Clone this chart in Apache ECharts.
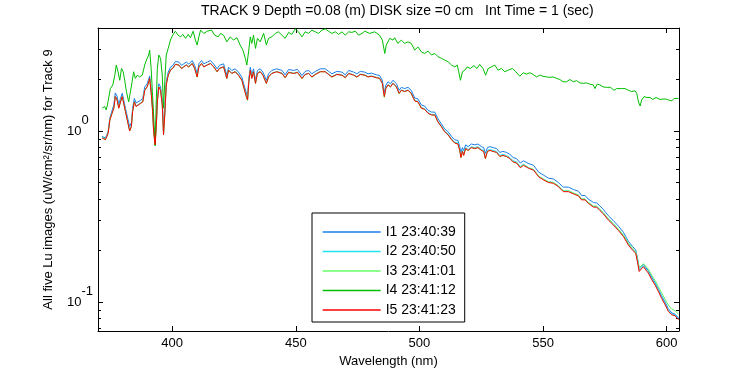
<!DOCTYPE html>
<html>
<head>
<meta charset="utf-8">
<script src="https://cdn.jsdelivr.net/npm/echarts@6/dist/echarts.min.js"></script>
<style>
  html, body { margin: 0; padding: 0; background: #fff; }
  #chart { width: 750px; height: 375px; }
</style>
</head>
<body>
<div id="chart"></div>
<script>
// wavelengths (nm) shared by I1, I2, I3 and I5
const wavelength = [
  371.7,373.0,374.1,374.8,375.7,376.4,377.0,377.7,378.4,379.1,
  379.8,380.4,381.1,382.0,382.8,383.5,384.0,384.7,385.4,386.2,
  387.2,388.1,388.9,389.9,390.5,390.9,391.6,392.1,392.5,393.1,
  393.6,394.0,394.6,395.3,396.0,396.5,397.0,397.6,398.4,399.3,
  400.2,401.3,402.7,403.8,404.7,405.7,406.7,408.1,409.1,410.1,
  410.8,411.9,412.8,414.2,415.5,416.8,418.2,419.1,420.8,422.1,
  422.8,424.1,425.5,426.8,428.2,429.1,430.0,430.5,431.0,431.6,
  432.2,432.9,433.7,434.5,435.6,436.7,438.1,439.0,440.3,442.3,
  444.4,445.7,447.1,449.1,450.7,452.5,453.8,455.2,456.5,457.9,
  459.9,461.9,463.3,464.6,466.6,468.7,470.0,471.4,473.4,474.7,
  476.1,477.9,479.2,480.6,482.6,483.9,485.0,485.8,486.4,487.3,
  488.3,489.3,490.7,491.8,492.7,494.0,495.4,496.7,498.1,499.4,
  500.8,502.1,503.5,504.9,506.2,507.5,508.9,510.2,511.6,513.0,
  514.3,515.6,516.3,516.8,517.4,517.9,518.7,519.7,521.0,522.4,
  523.7,525.1,526.0,526.7,527.5,528.5,529.8,531.2,532.5,533.8,
  535.2,536.6,537.9,539.3,540.8,542.1,544.2,546.2,548.2,550.0,
  552.2,554.2,556.2,558.2,560.3,562.3,564.3,565.6,567.0,568.3,
  570.4,571.7,573.0,574.4,576.4,578.4,580.5,582.5,584.5,586.1,
  587.5,588.3,588.9,589.7,590.6,591.6,592.6,594.0,595.3,596.7,
  598.0,599.4,600.7,602.1,603.4,604.8
];

const i1 = [
  0.93,0.91,0.99,1.19,1.32,1.42,1.67,1.60,1.43,1.55,
  1.66,1.52,1.36,1.19,1.06,1.12,1.36,1.55,1.46,1.49,
  1.51,1.55,1.81,1.89,1.85,2.10,1.70,1.38,1.07,0.89,
  1.16,1.56,1.89,1.81,1.50,1.04,1.32,1.94,2.21,2.36,
  2.41,2.55,2.53,2.42,2.47,2.53,2.46,2.58,2.42,2.16,
  2.47,2.58,2.47,2.53,2.58,2.46,2.31,2.42,2.47,2.12,
  2.36,2.26,2.31,2.21,2.06,1.85,1.67,1.60,2.02,2.36,
  2.12,2.31,1.98,2.26,2.31,2.21,1.98,2.16,2.26,2.31,
  2.26,2.13,2.29,2.26,2.29,2.11,2.23,2.26,2.16,2.23,
  2.31,2.31,2.23,2.16,2.23,2.21,2.13,2.26,2.21,2.16,
  2.23,2.21,2.16,2.18,2.13,2.11,1.98,1.67,1.85,1.94,
  1.89,1.98,1.89,1.73,1.80,1.77,1.80,1.73,1.56,1.54,
  1.42,1.40,1.32,1.29,1.29,1.18,1.10,1.03,0.99,0.93,
  0.89,0.88,0.81,0.75,0.80,0.77,0.83,0.81,0.84,0.83,
  0.84,0.81,0.80,0.74,0.80,0.81,0.80,0.79,0.75,0.76,
  0.75,0.73,0.70,0.69,0.65,0.67,0.645,0.63,0.575,0.555,
  0.53,0.525,0.50,0.47,0.47,0.455,0.445,0.42,0.42,0.40,
  0.382,0.38,0.365,0.348,0.32,0.30,0.278,0.256,0.227,0.212,
  0.202,0.178,0.158,0.162,0.166,0.159,0.153,0.140,0.130,0.119,
  0.109,0.100,0.0915,0.0865,0.085,0.081
];

const i2 = [
  0.92,0.90,0.98,1.17,1.28,1.37,1.60,1.53,1.37,1.49,
  1.60,1.46,1.31,1.14,1.01,1.07,1.31,1.49,1.40,1.43,
  1.46,1.49,1.74,1.82,1.78,2.04,1.63,1.31,1.00,0.84,
  1.09,1.49,1.82,1.74,1.43,0.96,1.25,1.87,2.13,2.28,
  2.33,2.46,2.44,2.33,2.38,2.44,2.38,2.49,2.33,2.08,
  2.38,2.49,2.38,2.44,2.49,2.38,2.23,2.33,2.38,2.04,
  2.28,2.18,2.23,2.13,1.99,1.78,1.60,1.53,1.95,2.28,
  2.04,2.23,1.91,2.18,2.23,2.13,1.91,2.08,2.18,2.23,
  2.18,2.06,2.21,2.18,2.21,2.04,2.15,2.18,2.08,2.15,
  2.23,2.23,2.15,2.08,2.15,2.13,2.06,2.18,2.13,2.08,
  2.15,2.13,2.08,2.10,2.06,2.04,1.91,1.60,1.78,1.87,
  1.82,1.91,1.82,1.67,1.74,1.71,1.74,1.67,1.51,1.49,
  1.37,1.35,1.28,1.25,1.25,1.14,1.07,1.00,0.96,0.90,
  0.86,0.85,0.78,0.71,0.77,0.73,0.80,0.78,0.81,0.80,
  0.81,0.78,0.77,0.70,0.77,0.78,0.77,0.76,0.72,0.73,
  0.72,0.70,0.67,0.66,0.62,0.64,0.61,0.595,0.545,0.525,
  0.505,0.50,0.478,0.447,0.447,0.433,0.422,0.40,0.40,0.382,
  0.363,0.363,0.347,0.332,0.306,0.287,0.265,0.245,0.219,0.204,
  0.195,0.171,0.153,0.158,0.163,0.156,0.150,0.137,0.128,0.117,
  0.107,0.0975,0.0892,0.0853,0.0842,0.0797
];

const i3 = [
  0.91,0.89,0.97,1.16,1.27,1.36,1.59,1.52,1.36,1.48,
  1.59,1.45,1.30,1.13,1.00,1.06,1.30,1.48,1.39,1.42,
  1.45,1.48,1.73,1.81,1.77,2.03,1.62,1.30,0.99,0.82,
  1.08,1.48,1.81,1.73,1.42,0.95,1.24,1.86,2.12,2.27,
  2.32,2.45,2.43,2.32,2.37,2.43,2.37,2.48,2.32,2.06,
  2.37,2.48,2.37,2.43,2.48,2.37,2.21,2.32,2.37,2.02,
  2.27,2.17,2.22,2.12,1.98,1.76,1.58,1.51,1.94,2.27,
  2.03,2.22,1.89,2.17,2.22,2.12,1.89,2.07,2.17,2.22,
  2.17,2.04,2.20,2.17,2.20,2.02,2.14,2.17,2.06,2.14,
  2.22,2.22,2.14,2.06,2.14,2.12,2.04,2.17,2.12,2.06,
  2.14,2.12,2.07,2.09,2.05,2.03,1.89,1.57,1.77,1.86,
  1.81,1.90,1.81,1.65,1.73,1.70,1.73,1.65,1.50,1.48,
  1.36,1.34,1.27,1.24,1.24,1.13,1.06,0.99,0.95,0.89,
  0.85,0.84,0.77,0.70,0.76,0.72,0.79,0.77,0.80,0.79,
  0.80,0.77,0.76,0.69,0.76,0.77,0.76,0.75,0.71,0.72,
  0.71,0.69,0.66,0.65,0.615,0.635,0.61,0.595,0.545,0.525,
  0.505,0.50,0.478,0.447,0.447,0.434,0.423,0.40,0.40,0.383,
  0.364,0.364,0.348,0.333,0.307,0.288,0.267,0.247,0.221,0.207,
  0.198,0.175,0.158,0.163,0.168,0.162,0.156,0.143,0.134,0.123,
  0.113,0.104,0.096,0.091,0.089,0.085
];

const i5 = [
  0.91,0.89,0.97,1.16,1.27,1.36,1.59,1.52,1.36,1.48,
  1.59,1.45,1.30,1.13,1.00,1.06,1.30,1.48,1.39,1.42,
  1.45,1.48,1.73,1.81,1.77,2.03,1.62,1.30,0.99,0.83,
  1.08,1.48,1.81,1.73,1.42,0.95,1.24,1.86,2.12,2.27,
  2.32,2.45,2.43,2.32,2.37,2.43,2.37,2.48,2.32,2.07,
  2.37,2.48,2.37,2.43,2.48,2.37,2.22,2.32,2.37,2.03,
  2.27,2.17,2.22,2.12,1.98,1.77,1.59,1.52,1.94,2.27,
  2.03,2.22,1.90,2.17,2.22,2.12,1.90,2.07,2.17,2.22,
  2.17,2.05,2.20,2.17,2.20,2.03,2.14,2.17,2.07,2.14,
  2.22,2.22,2.14,2.07,2.14,2.12,2.05,2.17,2.12,2.07,
  2.14,2.12,2.07,2.09,2.05,2.03,1.90,1.59,1.77,1.86,
  1.81,1.90,1.81,1.66,1.73,1.70,1.73,1.66,1.50,1.48,
  1.36,1.34,1.27,1.24,1.24,1.13,1.06,0.99,0.95,0.89,
  0.85,0.84,0.77,0.70,0.76,0.72,0.79,0.77,0.80,0.79,
  0.80,0.77,0.76,0.69,0.76,0.77,0.76,0.75,0.71,0.72,
  0.71,0.69,0.66,0.65,0.61,0.63,0.605,0.59,0.54,0.52,
  0.50,0.495,0.473,0.442,0.442,0.429,0.418,0.396,0.396,0.378,
  0.359,0.359,0.343,0.328,0.302,0.283,0.262,0.242,0.216,0.202,
  0.193,0.169,0.151,0.156,0.161,0.154,0.148,0.135,0.126,0.115,
  0.105,0.0964,0.0881,0.0843,0.0832,0.0788
];

// I4 was sampled on its own wavelengths
const wavelengthI4 = [
  371.7,372.7,373.3,373.8,374.6,375.0,376.0,376.8,377.4,378.1,
  378.8,379.5,380.2,380.8,381.5,382.4,383.2,383.8,384.4,385.1,
  385.9,386.8,387.9,388.9,389.6,390.5,390.9,391.5,392.0,392.5,
  393.1,393.6,394.0,394.6,395.3,396.0,396.5,397.0,397.6,398.4,
  399.3,400.2,401.3,402.4,403.4,404.3,405.4,406.5,407.4,408.5,
  409.4,410.1,410.8,411.5,412.8,414.2,415.9,417.2,418.6,419.6,
  420.8,422.1,423.5,424.8,426.2,427.5,428.6,429.6,430.2,430.9,
  431.6,432.2,432.9,433.7,434.5,435.6,437.0,438.1,439.0,440.3,
  441.7,443.0,444.4,445.7,447.1,448.4,449.8,451.1,452.5,453.8,
  455.2,456.5,457.9,459.2,460.6,461.9,463.3,464.6,466.0,467.3,
  468.7,470.0,471.4,472.7,474.1,475.4,476.8,477.9,479.9,481.9,
  483.9,485.0,486.0,486.6,488.0,489.3,490.0,491.3,492.0,492.7,
  494.0,495.4,496.7,498.1,499.4,500.8,502.1,503.5,504.9,506.2,
  507.5,508.9,510.2,511.6,513.0,514.3,515.3,515.9,516.6,517.4,
  518.4,519.3,520.6,522.0,523.3,524.4,525.7,526.8,527.8,529.1,
  530.5,531.8,533.2,534.5,535.9,537.7,539.0,540.6,542.0,543.3,
  544.7,546.0,547.4,548.7,550.0,551.4,552.8,554.1,555.5,556.8,
  558.1,559.5,560.9,562.2,563.6,564.9,566.3,567.6,568.9,570.3,
  571.0,571.9,573.0,574.3,575.7,577.3,578.7,579.8,581.8,583.2,
  584.5,585.9,587.2,587.9,588.6,589.3,589.9,590.9,592.0,593.3,
  594.4,595.7,597.3,599.4,600.7,602.1,603.0,604.8
];

const i4 = [
  1.36,1.39,1.33,1.42,1.43,1.77,1.86,2.12,2.43,2.22,
  1.98,2.32,2.22,1.98,1.70,1.48,1.52,1.94,2.22,2.03,
  2.12,2.07,2.12,2.43,2.60,2.78,2.97,2.32,1.70,1.24,
  0.82,1.55,2.32,2.78,2.66,2.12,1.36,1.94,2.78,3.04,
  3.40,3.63,3.83,3.63,3.55,3.67,3.48,3.67,3.51,3.83,
  3.40,3.18,3.55,3.89,3.72,3.83,3.89,3.63,3.55,3.72,
  3.63,3.32,3.55,3.40,3.51,3.18,2.97,2.66,2.43,2.90,
  3.55,3.25,3.63,3.04,3.48,3.32,3.72,3.18,3.48,3.55,
  3.72,3.80,3.63,3.48,3.77,3.67,3.95,3.80,3.55,3.80,
  3.72,3.89,3.80,3.72,3.89,3.95,3.83,3.72,3.80,3.67,
  3.80,3.63,3.80,3.77,3.83,3.63,3.72,3.83,3.72,3.80,
  3.63,3.40,2.84,3.18,3.48,3.40,3.51,3.25,3.18,3.40,
  3.25,3.32,3.25,2.97,3.10,2.90,2.84,2.93,2.78,2.84,
  2.72,2.66,2.60,2.54,2.43,2.37,2.43,2.22,1.98,2.22,
  2.27,2.37,2.32,2.41,2.32,2.45,2.32,2.12,2.32,2.37,
  2.43,2.27,2.32,2.22,2.27,2.32,2.22,2.09,2.19,2.15,
  2.19,2.14,2.07,2.12,2.09,2.07,2.06,2.07,2.03,2.00,
  1.94,1.94,2.00,1.94,1.97,1.91,1.90,1.91,1.88,1.86,
  1.77,1.88,1.86,1.81,1.80,1.80,1.73,1.77,1.77,1.77,
  1.73,1.70,1.72,1.66,1.48,1.40,1.52,1.59,1.57,1.57,
  1.53,1.57,1.53,1.54,1.52,1.50,1.55,1.55
];

const seriesNames = ['I1 23:40:39', 'I2 23:40:50', 'I3 23:41:01', 'I4 23:41:12', 'I5 23:41:23'];
const seriesColors = ['#1a7ee8', '#20e4f0', '#66ff66', '#00bf00', '#ff0000'];

const FONT = 'Liberation Sans, Arial, sans-serif';

function pairs(xs, ys) {
  return xs.map((x, i) => [x, ys[i]]);
}

const chart = echarts.init(document.getElementById('chart'));

const blackLine = { lineStyle: { color: '#000', width: 1 } };

function lineSeries(idx, xs, ys) {
  return {
    name: seriesNames[idx],
    type: 'line',
    data: pairs(xs, ys),
    symbol: 'none',
    showSymbol: false,
    lineStyle: { width: 1, color: seriesColors[idx] },
    itemStyle: { color: seriesColors[idx] },
    emphasis: { disabled: true },
    animation: false
  };
}

chart.setOption({
  animation: false,
  backgroundColor: '#fff',
  title: {
    text: 'TRACK 9 Depth =0.08 (m) DISK size =0 cm   Int Time = 1 (sec)',
    left: 201,
    top: 4,
    padding: 0,
    textStyle: { fontFamily: FONT, fontSize: 14, fontWeight: 'normal', color: '#000' }
  },
  grid: { left: 98, top: 28, width: 581, height: 303 },
  legend: {
    data: seriesNames,
    orient: 'vertical',
    left: 312,
    top: 213,
    itemWidth: 58,
    itemHeight: 14,
    itemGap: 5.5,
    padding: [12, 9, 5, 10],
    borderColor: '#000',
    borderWidth: 1,
    borderRadius: 0,
    backgroundColor: '#fff',
    selectedMode: false,
    itemStyle: { opacity: 0 },
    lineStyle: { width: 1.3, opacity: 1 },
    textStyle: { fontFamily: FONT, fontSize: 14, color: '#000' }
  },
  xAxis: [
    {
      type: 'value',
      min: 370,
      max: 605,
      position: 'bottom',
      axisLine: blackLine,
      axisTick: { inside: true, length: 5, lineStyle: { color: '#000' } },
      axisLabel: {
        color: '#000', fontFamily: FONT, fontSize: 13, margin: 6,
        showMinLabel: false, showMaxLabel: false
      },
      splitLine: { show: false },
      name: 'Wavelength (nm)',
      nameLocation: 'middle',
      nameGap: 19,
      nameTextStyle: { fontFamily: FONT, fontSize: 13, color: '#000' }
    },
    {
      type: 'value',
      min: 370,
      max: 605,
      position: 'top',
      axisLine: blackLine,
      axisTick: { inside: true, length: 5, lineStyle: { color: '#000' } },
      axisLabel: { show: false },
      splitLine: { show: false }
    }
  ],
  yAxis: [
    {
      type: 'log',
      min: 0.0678,
      max: 4,
      position: 'left',
      axisLine: blackLine,
      axisTick: { inside: true, length: 5, lineStyle: { color: '#000' } },
      minorTick: { show: true, splitNumber: 9, length: 3, lineStyle: { color: '#000' } },
      axisLabel: {
        align: 'left',
        margin: 31,
        showMinLabel: false,
        showMaxLabel: false,
        formatter: v => '{b|10}{e|' + Math.round(Math.log10(v)) + '}',
        rich: {
          b: { fontFamily: FONT, fontSize: 13, color: '#000' },
          e: { fontFamily: FONT, fontSize: 13, color: '#000', padding: [0, 0, 22, 0] }
        }
      },
      splitLine: { show: false },
      minorSplitLine: { show: false },
      name: 'All five Lu images (uW/cm²/sr/nm) for Track 9',
      nameLocation: 'middle',
      nameGap: 43,
      nameRotate: 90,
      nameTextStyle: { fontFamily: FONT, fontSize: 13, color: '#000' }
    },
    {
      type: 'log',
      min: 0.0678,
      max: 4,
      position: 'right',
      axisLine: blackLine,
      axisTick: { inside: true, length: 5, lineStyle: { color: '#000' } },
      minorTick: { show: true, splitNumber: 9, length: 3, lineStyle: { color: '#000' } },
      axisLabel: { show: false },
      splitLine: { show: false },
      minorSplitLine: { show: false }
    }
  ],
  series: [
    lineSeries(0, wavelength, i1),
    lineSeries(1, wavelength, i2),
    lineSeries(2, wavelength, i3),
    lineSeries(3, wavelengthI4, i4),
    lineSeries(4, wavelength, i5)
  ]
});
</script>
</body>
</html>
